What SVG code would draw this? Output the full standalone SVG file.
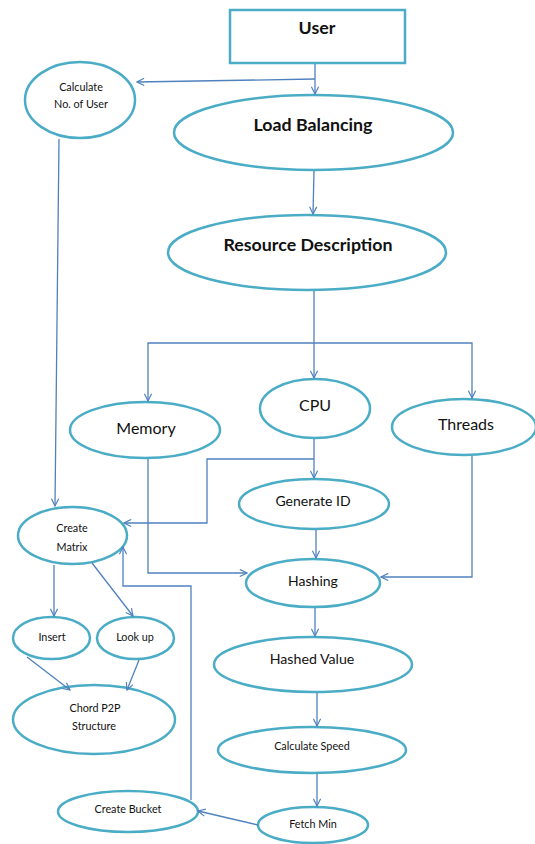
<svg xmlns="http://www.w3.org/2000/svg" width="535" height="844" viewBox="0 0 535 844">
<defs>
<style>
.n{fill:#fff;stroke:#4bacc6;stroke-width:2.5}
.t{font-family:Lato,"Open Sans","Liberation Sans",sans-serif;fill:#111;text-anchor:middle}
.b{font-weight:bold;font-size:17.8px}
.l{font-size:16px}
.m{font-size:14.2px}
.s{font-size:14px}
.x{font-size:10.8px}
.c{fill:none;stroke:#4f81bd;stroke-width:1.3}
</style>
<marker id="a" viewBox="0 0 10 10" refX="9" refY="5" markerWidth="9" markerHeight="9" markerUnits="userSpaceOnUse" orient="auto">
<path d="M1,1 L9,5 L1,9" fill="none" stroke="#4f81bd" stroke-width="1.3"/>
</marker>
</defs>
<rect width="535" height="844" fill="#fff"/>
<g id="user"><rect x="230" y="10" width="175" height="53" fill="#fff" stroke="#4bacc6" stroke-width="2.5"/><text class="t b" x="317" y="34">User</text></g>
<g id="calc-users"><ellipse class="n" cx="80" cy="100" rx="55" ry="38"/><text class="t x" x="81" y="91">Calculate</text><text class="t x" x="81" y="108">No. of User</text></g>
<g id="load-balancing"><ellipse class="n" cx="313.5" cy="132.5" rx="139.5" ry="37.5"/><text class="t b" x="313" y="131">Load Balancing</text></g>
<g id="resource-description"><ellipse class="n" cx="307" cy="252.5" rx="139" ry="37.5"/><text class="t b" x="308" y="251">Resource Description</text></g>
<g id="memory"><ellipse class="n" cx="145" cy="430" rx="75" ry="28"/><text class="t l" x="146" y="434">Memory</text></g>
<g id="cpu"><ellipse class="n" cx="315" cy="408.5" rx="55" ry="29.5"/><text class="t l" x="315" y="411">CPU</text></g>
<g id="threads"><ellipse class="n" cx="464" cy="427" rx="72" ry="28"/><text class="t l" x="466" y="430">Threads</text></g>
<g id="generate-id"><ellipse class="n" cx="314" cy="504" rx="75" ry="25"/><text class="t s" x="313" y="506">Generate ID</text></g>
<g id="create-matrix"><ellipse class="n" cx="72.5" cy="535.5" rx="54.5" ry="28.5"/><text class="t x" x="72" y="532">Create</text><text class="t x" x="72" y="551">Matrix</text></g>
<g id="hashing"><ellipse class="n" cx="313" cy="583" rx="67" ry="24"/><text class="t s" x="313" y="586">Hashing</text></g>
<g id="insert"><ellipse class="n" cx="51.5" cy="638" rx="38.5" ry="21"/><text class="t x" x="52" y="641">Insert</text></g>
<g id="lookup"><ellipse class="n" cx="135.5" cy="638" rx="38.5" ry="21"/><text class="t x" x="135" y="641">Look up</text></g>
<g id="hashed-value"><ellipse class="n" cx="313" cy="664.5" rx="99" ry="27.5"/><text class="t m" x="312" y="664">Hashed Value</text></g>
<g id="chord"><ellipse class="n" cx="94" cy="719.5" rx="81" ry="34.5"/><text class="t x" x="95" y="712">Chord P2P</text><text class="t x" x="94" y="730">Structure</text></g>
<g id="calc-speed"><ellipse class="n" cx="312" cy="750" rx="94" ry="23"/><text class="t x" x="312" y="750">Calculate Speed</text></g>
<g id="create-bucket"><ellipse class="n" cx="128" cy="811.5" rx="70" ry="20.5"/><text class="t x" x="128" y="813">Create Bucket</text></g>
<g id="fetch-min"><ellipse class="n" cx="313" cy="825" rx="55" ry="18"/><text class="t x" x="313" y="828">Fetch Min</text></g>
<g id="connectors">
<path class="c" d="M315,64 V94" marker-end="url(#a)"/>
<path class="c" d="M315,79 L137,82" marker-end="url(#a)"/>
<path class="c" d="M314,171 L313,214" marker-end="url(#a)"/>
<path class="c" d="M314,291 V378" marker-end="url(#a)"/>
<path class="c" d="M314,343 H148 V401" marker-end="url(#a)"/>
<path class="c" d="M314,343 H472 V398" marker-end="url(#a)"/>
<path class="c" d="M59,139 L55,506" marker-end="url(#a)"/>
<path class="c" d="M314,439 V478" marker-end="url(#a)"/>
<path class="c" d="M314,459 H207 V523 H124" marker-end="url(#a)"/>
<path class="c" d="M316,530 V558" marker-end="url(#a)"/>
<path class="c" d="M148,459 V573 H247" marker-end="url(#a)"/>
<path class="c" d="M472,456 V577 H381" marker-end="url(#a)"/>
<path class="c" d="M54,565 V616" marker-end="url(#a)"/>
<path class="c" d="M92,563 L133,616" marker-end="url(#a)"/>
<path class="c" d="M191,800 V586 H123 V547" marker-end="url(#a)"/>
<path class="c" d="M27,657 L70,690" marker-end="url(#a)"/>
<path class="c" d="M139,660 L127,690" marker-end="url(#a)"/>
<path class="c" d="M315,608 V636" marker-end="url(#a)"/>
<path class="c" d="M317,693 V726" marker-end="url(#a)"/>
<path class="c" d="M317,774 V806" marker-end="url(#a)"/>
<path class="c" d="M258,825 L198,811" marker-end="url(#a)"/>
</g>
</svg>
